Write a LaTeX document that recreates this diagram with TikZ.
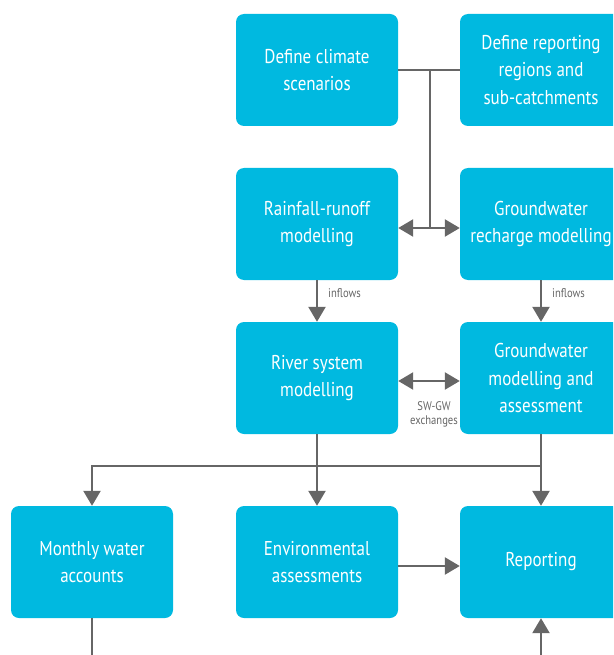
\documentclass[tikz,border=0pt]{standalone}
\usepackage{fontspec}
\setmainfont[FakeStretch=0.85]{PT Sans}
\usetikzlibrary{arrows.meta}
\definecolor{boxcyan}{HTML}{00B9E0}
\definecolor{linegrey}{HTML}{666666}
\tikzset{
  stepbox/.style={fill=boxcyan, rounded corners=8pt, minimum width=162pt, minimum height=112pt,
    text=white, align=center, font=\fontsize{20}{27.5}\selectfont, inner sep=0pt},
  flow/.style={draw=linegrey, line width=2.4pt, -{Triangle[length=15pt,width=17pt]}},
  flowboth/.style={draw=linegrey, line width=2.4pt, {Triangle[length=15pt,width=17pt]}-{Triangle[length=15pt,width=17pt]}},
  link/.style={draw=linegrey, line width=2.4pt},
  tag/.style={text=linegrey, font=\fontsize{12.5}{14}\selectfont, align=center, inner sep=1pt}
}
\begin{document}
\begin{tikzpicture}[x=1pt, y=-1pt]
    \useasboundingbox (0, 0) rectangle (613, 655);
    \clip (0, 0) rectangle (613, 655);
    % boxes
    \node [stepbox] (climate)   at (317, 70)  {Define climate\\scenarios};
    \node [stepbox] (regions)   at (541, 70)  {Define reporting\\regions and\\sub-catchments};
    \node [stepbox] (runoff)    at (317, 224) {Rainfall-runoff\\modelling};
    \node [stepbox] (recharge)  at (541, 224) {Groundwater\\recharge modelling};
    \node [stepbox] (river)     at (317, 378) {River system\\modelling};
    \node [stepbox] (gwmodel)   at (541, 378) {Groundwater\\modelling and\\assessment};
    \node [stepbox] (accounts)  at (92, 562)  {Monthly water\\accounts};
    \node [stepbox] (envassess) at (317, 562) {Environmental\\assessments};
    \node [stepbox] (reporting) at (541, 562) {Reporting};
    % top links
    \coordinate (split) at (430, 70);
    \coordinate (mid)   at (430, 228);
    \draw [link]     (climate.east) -- (regions.west);
    \draw [link]     (split) -- (mid);
    \draw [flow]     (mid) -- (runoff.east |- mid);
    \draw [flow]     (mid) -- (recharge.west |- mid);
    % inflows
    \draw [flow]     (runoff.south) -- (river.north) node [tag, midway, right=9pt, yshift=8pt] {inflows};
    \draw [flow]     (recharge.south) -- (gwmodel.north) node [tag, midway, right=9pt, yshift=8pt] {inflows};
    % exchanges
    \coordinate (swgw) at (430, 381);
    \draw [flowboth] (river.east |- swgw) -- (gwmodel.west |- swgw);
    \node [tag] (swgwtag) at (434, 414) {SW-GW\\exchanges};
    % outputs
    \coordinate (bus) at (316, 466);
    \draw [flow]     (river.south) -- (envassess.north);
    \draw [flow]     (gwmodel.south) -- (reporting.north);
    \draw [flow]     (gwmodel.south |- bus) -- (accounts.north |- bus) -- (accounts.north);
    \draw [flow]     (envassess.east |- 0, 566) -- (reporting.west |- 0, 566);
    % bottom
    \coordinate (accountsout) at (92, 660);
    \coordinate (reportingin) at (541, 660);
    \draw [link]     (accounts.south) -- (accountsout);
    \draw [flow]     (reportingin) -- (reporting.south);
\end{tikzpicture}
\end{document}
